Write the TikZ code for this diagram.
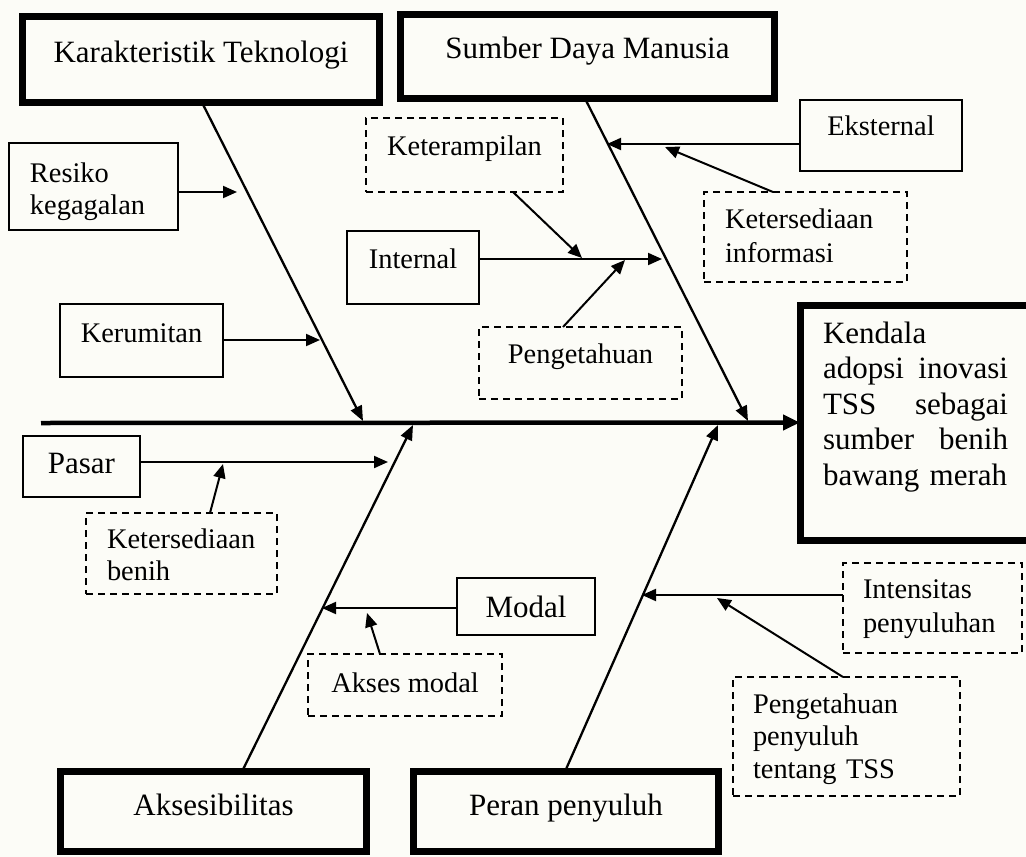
\documentclass[tikz,border=0pt]{standalone}
\usepackage{fontspec}
\setmainfont{Liberation Serif}
\usetikzlibrary{arrows.meta}
\definecolor{paper}{RGB}{252,252,247}
\begin{document}
\begin{tikzpicture}[x=1pt,y=-1pt,
  base/.style={inner ysep=0pt, outer sep=0pt, anchor=base west},
  bigtxt/.style={font=\fontsize{31}{35.5}\selectfont},
  smalltxt/.style={font=\fontsize{28.4}{32.7}\selectfont},
  thickbox/.style={base, bigtxt, draw, line width=7pt},
  thinbox/.style={base, smalltxt, draw, line width=1.8pt},
  dashbox/.style={base, smalltxt, draw, line width=1.8pt, dash pattern=on 7pt off 5pt},
  mainline/.style={line width=4.5pt, -{Triangle[length=17pt,width=15pt]}},
  bone/.style={line width=2.3pt, -{Triangle[length=15pt,width=12pt]}},
  sub/.style={line width=2pt, -{Triangle[length=14pt,width=12pt]}}]
\useasboundingbox (0,0) rectangle (1026,857);
\clip (0,0) rectangle (1026,857);
\fill[paper] (0,0) rectangle (1026,857);

% head
\node[thickbox, text width=185pt, inner xsep=23pt, align=left,
      text height=38pt, text depth=197pt] (ken) at (800,343)
  {Kendala\\adopsi\hfill inovasi\\TSS\hfill sebagai\\sumber\hfill benih\\bawang merah};

% category boxes
\node[thickbox, minimum width=357pt, text height=45.5pt, text depth=40.5pt] (kt) at (22.5,62) {Karakteristik Teknologi};
\node[thickbox, minimum width=374pt, text height=43.5pt, text depth=40.5pt] (sdm) at (400.5,58) {Sumber Daya Manusia};
\node[thickbox, minimum width=306pt, text height=43.5pt, text depth=36pt] (aks) at (60.5,815) {Aksesibilitas};
\node[thickbox, minimum width=305pt, text height=43.5pt, text depth=36pt] (per) at (413.5,815) {Peran penyuluh};

% cause boxes
\node[thinbox, text width=127pt, inner xsep=21pt, align=left, font=\fontsize{28.4}{32}\selectfont,
      text height=39pt, text depth=48pt] (res) at (9,182) {Resiko\\kegagalan};
\node[thinbox, minimum width=163pt, text height=38pt, text depth=35pt] (ker) at (60,342) {Kerumitan};
\node[thinbox, minimum width=162pt, text height=35pt, text depth=36pt] (eks) at (800,135) {Eksternal};
\node[dashbox, text width=161pt, inner xsep=21pt, align=left, font=\fontsize{28.4}{34}\selectfont,
      text height=36pt, text depth=54pt] (ki) at (704,228) {Ketersediaan\\informasi};
\node[dashbox, minimum width=197pt, text height=37pt, text depth=37pt] (ket) at (366,155) {Keterampilan};
\node[thinbox, minimum width=132pt, text height=37pt, text depth=36pt] (int) at (347,268) {Internal};
\node[dashbox, minimum width=203pt, text height=36pt, text depth=36pt] (pen) at (479,363) {Pengetahuan};
\node[thinbox, bigtxt, minimum width=117pt, text height=37pt, text depth=24pt] (pas) at (23,473) {Pasar};
\node[dashbox, text width=149pt, inner xsep=21pt, align=left, font=\fontsize{28.4}{32}\selectfont,
      text height=35pt, text depth=46pt] (kb) at (86,548) {Ketersediaan\\benih};
\node[thinbox, bigtxt, minimum width=138pt, text height=39pt, text depth=18pt] (mod) at (457,617) {Modal};
\node[dashbox, minimum width=194pt, text height=38pt, text depth=24pt] (am) at (308,692) {Akses modal};
\node[dashbox, text width=139pt, inner xsep=20pt, align=left, font=\fontsize{28.4}{34}\selectfont,
      text height=35pt, text depth=55pt] (ip) at (843,598) {Intensitas\\penyuluhan};
\node[dashbox, text width=187pt, inner xsep=20pt, align=left, font=\fontsize{28.4}{32.5}\selectfont,
      text height=36pt, text depth=83pt] (pp) at (733,713) {Pengetahuan\\penyuluh\\tentang TSS};

% coordinates on the spine and bones
\coordinate (tail) at (41,423);
\coordinate (h1) at (363,421);
\coordinate (h2) at (748,421);
\coordinate (h3) at (413,425);
\coordinate (h4) at (718,425);
\coordinate (r1) at (237,192);
\coordinate (k1) at (320,340);
\coordinate (e1) at (607,144);
\coordinate (e2) at (665,147);
\coordinate (i1) at (662,259);
\coordinate (i2) at (582,258);
\coordinate (i3) at (625,260);
\coordinate (p1) at (388,462);
\coordinate (p2) at (223,464);
\coordinate (m1) at (322,608);
\coordinate (m2) at (367,613);
\coordinate (n1) at (642,595);
\coordinate (n2) at (717,598);

% spine
\draw[mainline] (tail) -- (ken.west);

% bones
\draw[bone] ([xshift=1pt]kt.south) -- (h1);
\draw[bone] ([xshift=-2.5pt]sdm.south) -- (h2);
\draw[bone] ([xshift=28.5pt]aks.north) -- (h3);
\draw[bone] ([xshift=-1pt]per.north) -- (h4);

% sub causes
\draw[sub] (res.east |- r1) -- (r1);
\draw[sub] (ker.east |- k1) -- (k1);
\draw[sub] (eks.west |- e1) -- (e1);
\draw[sub] ([xshift=-32.5pt]ki.north) -- (e2);
\draw[sub] (int.east |- i1) -- (i1);
\draw[sub] ([xshift=48.5pt]ket.south) -- (i2);
\draw[sub] ([xshift=-17.5pt]pen.north) -- (i3);
\draw[sub] (pas.east |- p1) -- (p1);
\draw[sub] ([xshift=28.5pt]kb.north) -- (p2);
\draw[sub] (mod.west |- m1) -- (m1);
\draw[sub] ([xshift=-25pt]am.north) -- (m2);
\draw[sub] (ip.west |- n1) -- (n1);
\draw[sub] ([xshift=-3.5pt]pp.north) -- (n2);
\end{tikzpicture}
\end{document}
